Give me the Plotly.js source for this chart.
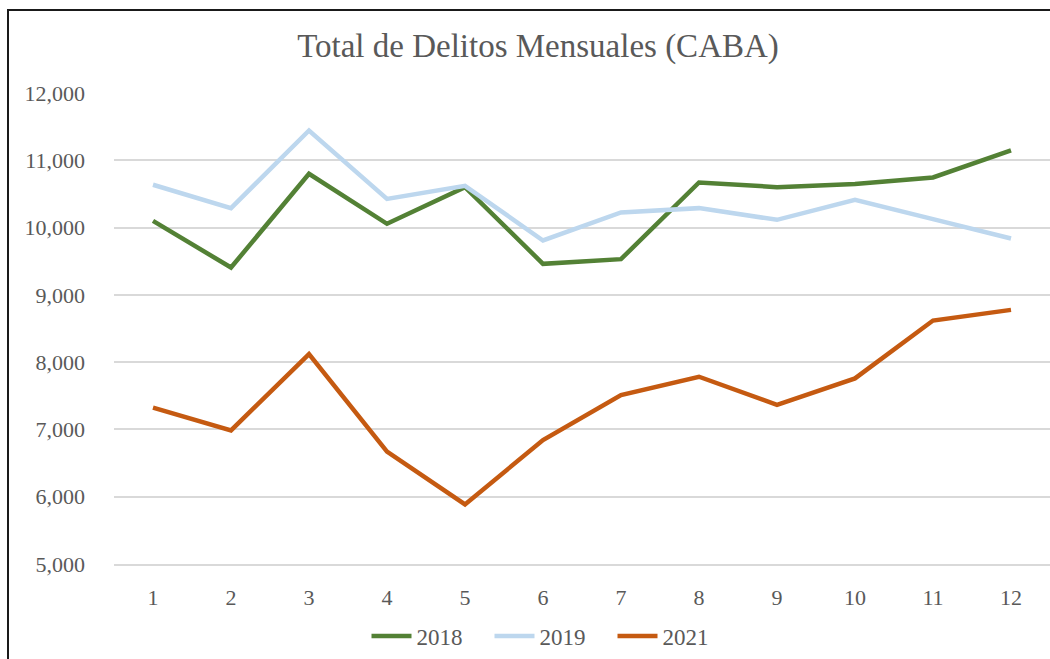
<!DOCTYPE html>
<html>
<head>
<meta charset="utf-8">
<script src="https://cdn.plot.ly/plotly-3.0.1.min.js"></script>
<style>
  html, body { margin: 0; padding: 0; background: #fff; }
  #wrap { position: relative; width: 1050px; height: 659px; overflow: hidden; }
  #chart { position: absolute; left: 0; top: 0; width: 1050px; height: 659px; }
  #frame { position: absolute; left: 7px; top: 9px; width: 1100px; height: 700px; border: 2px solid #1a1a1a; pointer-events: none; }
</style>
</head>
<body>
<div id="wrap">
  <div id="chart"></div>
  <div id="frame"></div>
</div>
<script>
const months = [1, 2, 3, 4, 5, 6, 7, 8, 9, 10, 11, 12];
const monthLabels = ["1", "2", "3", "4", "5", "6", "7", "8", "9", "10", "11", "12"];
const s2018 = [10100, 9406, 10800, 10056, 10600, 9461, 9531, 10670, 10601, 10646, 10745, 11146];
const s2019 = [10636, 10289, 11443, 10425, 10621, 9808, 10224, 10289, 10115, 10413, 10126, 9837];
const s2021 = [7323, 6985, 8120, 6669, 5885, 6842, 7511, 7783, 7365, 7759, 8618, 8777];
const yTicks = [5000, 6000, 7000, 8000, 9000, 10000, 11000, 12000];
const yTickLabels = ["5,000", "6,000", "7,000", "8,000", "9,000", "10,000", "11,000", "12,000"];

const font = "'Liberation Serif', 'DejaVu Serif', serif";
const textColor = "#595959";

const traces = [
  { name: "2018", x: months, y: s2018, color: "#538135" },
  { name: "2019", x: months, y: s2019, color: "#bdd7ee" },
  { name: "2021", x: months, y: s2021, color: "#c55a11" }
].map(s => ({
  type: "scatter", mode: "lines", name: s.name, x: s.x, y: s.y,
  line: { color: s.color, width: 4.5 }, hoverinfo: "x+y+name"
}));

const layout = {
  width: 1050, height: 659,
  paper_bgcolor: "#ffffff", plot_bgcolor: "#ffffff",
  margin: { l: 114, r: 0, t: 93, b: 95, pad: 0 },
  font: { family: font, color: textColor, size: 22 },
  title: {
    text: "Total de Delitos Mensuales (CABA)",
    font: { family: font, size: 33, color: textColor },
    xref: "container", x: 538 / 1050, xanchor: "center",
    yref: "container", y: 1 - 45 / 659, yanchor: "middle"
  },
  xaxis: {
    range: [0.5, 12.5], tickmode: "array", tickvals: months, ticktext: monthLabels,
    showgrid: false, zeroline: false, showline: true, linecolor: "#d9d9d9", linewidth: 2,
    ticks: "", ticklabelstandoff: 13,
    tickfont: { family: font, size: 22, color: textColor }, fixedrange: true
  },
  yaxis: {
    range: [5000, 12000], tickmode: "array", tickvals: yTicks, ticktext: yTickLabels,
    showgrid: true, gridcolor: "#d9d9d9", gridwidth: 2, zeroline: false, showline: false,
    ticks: "", ticklabelstandoff: 28,
    tickfont: { family: font, size: 22, color: textColor }, fixedrange: true
  },
  showlegend: true,
  legend: {
    orientation: "h", xref: "container", yref: "container",
    x: 551 / 1050, xanchor: "center", y: 1 - 636 / 659, yanchor: "middle",
    font: { family: font, size: 23, color: textColor }, itemwidth: 40,
    entrywidth: 68, entrywidthmode: "pixels",
    traceorder: "normal", bgcolor: "rgba(0,0,0,0)"
  }
};

Plotly.newPlot("chart", traces, layout, { displayModeBar: false, staticPlot: false });
</script>
</body>
</html>
